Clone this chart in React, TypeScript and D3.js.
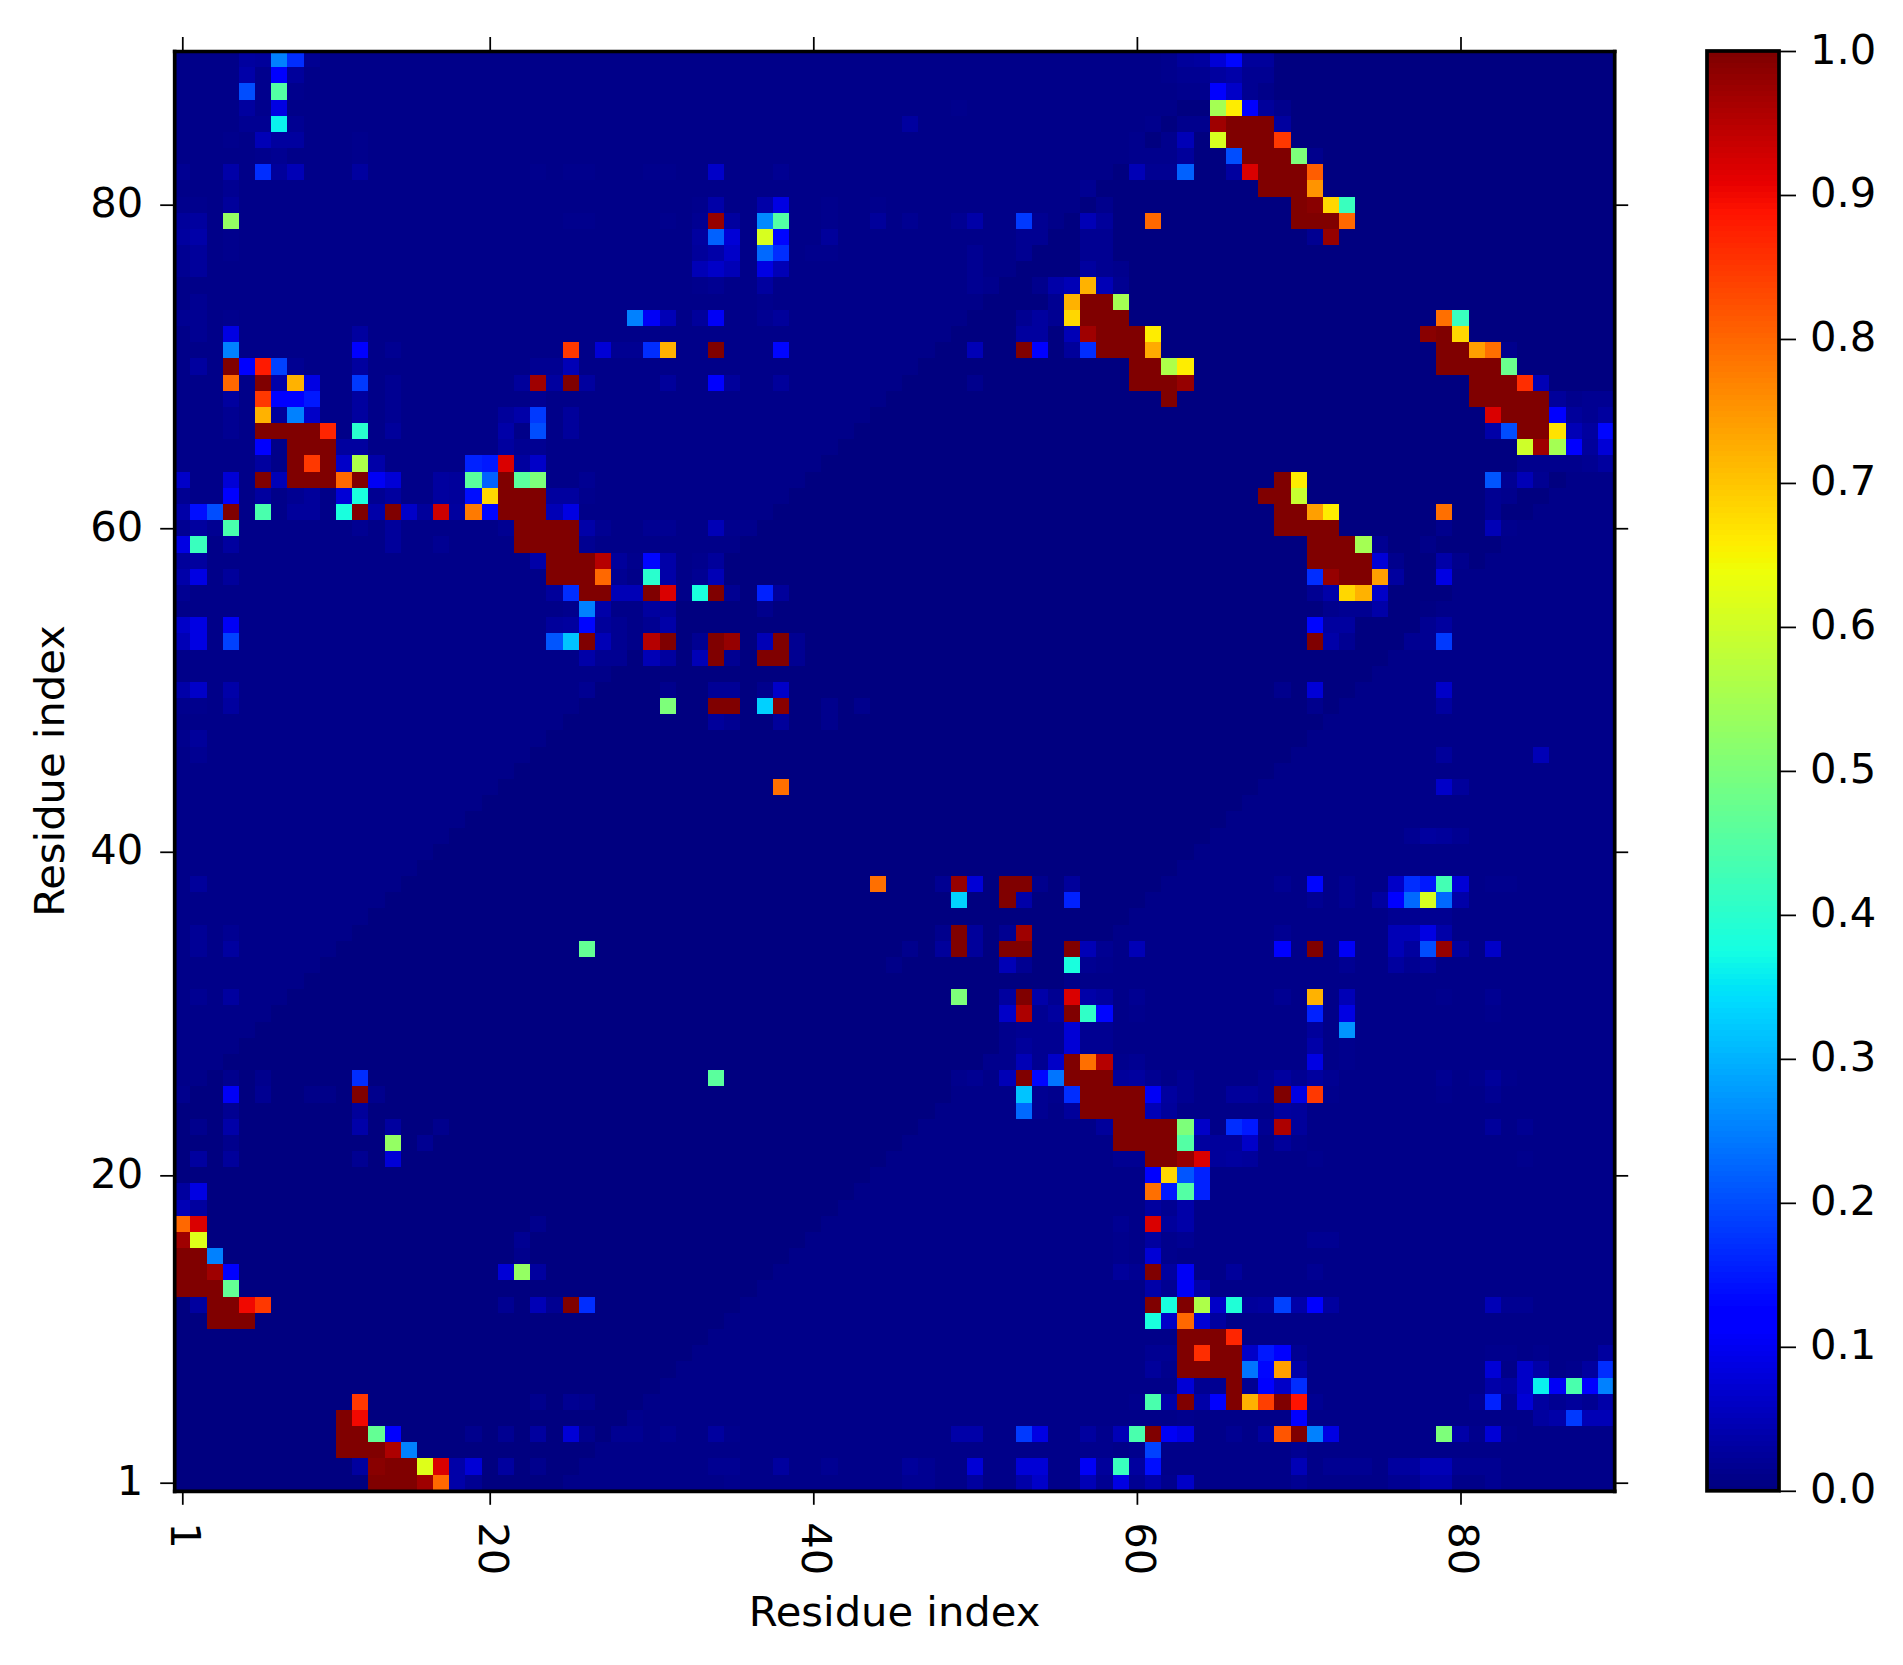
import * as d3 from 'd3';
import { useEffect, useRef } from 'react';

const WIDTH = 1903;
const HEIGHT = 1665;
const N_RESIDUES = 89;
const AXIS_TICKS = [1, 20, 40, 60, 80];
const COLORBAR_TICKS = [0, 0.1, 0.2, 0.3, 0.4, 0.5, 0.6, 0.7, 0.8, 0.9, 1];
const AXIS_LABEL = 'Residue index';
const FONT = '"DejaVu Sans", sans-serif';
const FONT_SIZE = 41.67;

// background level of the map, a little higher for residues far apart in sequence
const NEAR_LEVEL = 0;
const FAR_LEVEL = 0.008;
const FAR_SEPARATION = 24;

// each entry: row, then column, value, column, value ...
const rows89to73 = [
    [89, 5, .05, 6, .04, 7, .25, 8, .17, 9, .03, 62, .02, 63, .04, 64, .05, 65, .09, 66, .13, 67, .04, 68, .04],
    [88, 5, .06, 6, .02, 7, .12, 8, .04, 62, .02, 63, .03, 64, .03, 65, .05, 66, .06, 67, .03, 68, .03],
    [87, 5, .2, 6, .02, 7, .45, 8, .02, 63, .02, 64, .02, 65, .12, 66, .08, 67, .03, 68, .015],
    [86, 5, .05, 6, .02, 7, .1, 49, .02, 65, .55, 66, .66, 67, .12, 68, .04, 69, .02],
    [85, 5, .03, 6, .03, 7, .36, 8, .03, 46, .05, 61, .02, 63, .02, 64, .02, 65, .97, 66, 1, 67, 1, 68, 1, 69, .05],
    [84, 4, .02, 6, .07, 7, .05, 8, .05, 12, .025, 21, .015, 23, .015, 60, .02, 62, .02, 63, .07, 65, .61, 66, 1, 67, 1, 68, 1, 69, .85],
    [83, 6, .02, 7, .03, 12, .02, 60, .02, 61, .02, 62, .02, 63, .04, 66, .2, 67, 1, 68, 1, 69, 1, 70, .5, 71, .02],
    [82, 1, .03, 4, .06, 6, .17, 7, .04, 8, .07, 12, .05, 23, .025, 25, .02, 26, .02, 30, .02, 31, .02, 34, .08, 38, .03, 41, .015, 60, .07, 61, .03, 62, .03, 63, .22, 66, .05, 67, .92, 68, 1, 69, 1, 70, 1, 71, .81],
    [81, 4, .03, 57, .03, 68, 1, 69, 1, 70, 1, 71, .75],
    [80, 1, .02, 2, .02, 4, .04, 33, .02, 34, .06, 37, .06, 38, .1, 41, .02, 44, .02, 58, .02, 70, 1, 71, .99, 72, .68, 73, .42],
    [79, 1, .04, 2, .05, 4, .53, 25, .02, 26, .02, 31, .02, 33, .03, 34, .98, 35, .05, 37, .26, 38, .45, 41, .025, 44, .04, 46, .03, 49, .03, 50, .06, 53, .18, 54, .03, 57, .07, 58, .04, 61, .8, 70, 1, 71, 1, 72, 1, 73, .8],
    [78, 1, .05, 2, .06, 4, .025, 33, .05, 34, .22, 35, .09, 37, .61, 38, .13, 41, .04, 53, .03, 54, .03, 57, .03, 58, .03, 71, .03, 72, .98],
    [77, 1, .03, 2, .04, 4, .02, 33, .04, 34, .06, 35, .08, 37, .23, 38, .17, 40, .02, 41, .02, 50, .03, 53, .03, 57, .03, 58, .03],
    [76, 1, .03, 2, .04, 33, .07, 34, .08, 35, .07, 37, .1, 38, .07, 50, .03, 57, .05, 58, .03, 59, .02],
    [75, 33, .02, 34, .03, 37, .05, 50, .03, 51, .02, 54, .02, 55, .06, 56, .07, 57, .72, 58, .07, 59, .03],
    [74, 2, .03, 37, .02, 55, .03, 56, .72, 57, 1, 58, 1, 59, .55],
    [73, 1, .03, 2, .03, 4, .02, 29, .25, 30, .11, 31, .07, 33, .04, 34, .11, 37, .03, 38, .04, 53, .03, 54, .05, 55, .03, 56, .68, 57, 1, 58, 1, 59, 1, 79, .79, 80, .42],
];

const rows72to60 = [
    [72, 2, .03, 4, .1, 12, .05, 53, .05, 54, .05, 56, .07, 57, .97, 58, 1, 59, 1, 60, 1, 61, .66, 78, .99, 79, 1, 80, .68],
    [71, 4, .25, 12, .12, 14, .03, 25, .85, 27, .09, 28, .03, 29, .03, 30, .17, 31, .72, 34, 1, 38, .13, 50, .07, 53, 1, 54, .12, 56, .04, 57, .17, 58, 1, 59, 1, 60, 1, 61, .73, 79, 1, 80, 1, 81, .74, 82, .79, 83, .02],
    [70, 2, .05, 4, 1, 5, .12, 6, .88, 7, .19, 8, .03, 12, .05, 23, .03, 24, .03, 25, .07, 60, 1, 61, 1, 62, .56, 63, .66, 79, 1, 80, 1, 81, 1, 82, 1, 83, .48],
    [69, 4, .8, 6, 1, 7, .06, 8, .72, 9, .1, 12, .18, 14, .03, 22, .04, 23, .97, 24, .05, 25, 1, 26, .05, 31, .04, 34, .12, 35, .04, 38, .04, 50, .02, 60, 1, 61, 1, 62, 1, 63, .98, 81, 1, 82, 1, 83, 1, 84, .86, 85, .07],
    [68, 4, .05, 6, .85, 7, .12, 8, .12, 9, .15, 12, .05, 14, .03, 23, .03, 62, 1, 81, 1, 82, 1, 83, 1, 84, 1, 85, 1, 86, .04, 87, .02, 88, .03, 89, .03],
    [67, 4, .03, 6, .72, 7, .04, 8, .25, 9, .08, 12, .05, 14, .03, 21, .04, 22, .06, 23, .18, 25, .04, 82, .92, 83, 1, 84, 1, 85, 1, 86, .12, 87, .04, 88, .03, 89, .05],
    [66, 4, .03, 6, 1, 7, 1, 8, 1, 9, 1, 10, .87, 12, .4, 14, .04, 21, .06, 23, .2, 25, .04, 82, .06, 83, .2, 84, 1, 85, 1, 86, .67, 87, .07, 88, .05, 89, .13],
    [65, 6, .12, 8, 1, 9, 1, 10, 1, 11, .05, 12, .05, 21, .05, 22, .03, 23, .03, 84, .6, 85, .97, 86, .55, 87, .12, 88, .04, 89, .09],
    [64, 6, .05, 8, 1, 9, .85, 10, 1, 11, .08, 12, .56, 13, .06, 19, .16, 20, .15, 21, .92, 22, .05, 23, .08, 84, .02, 85, .02, 86, .02, 87, .02, 88, .03, 89, .05],
    [63, 1, .08, 4, .09, 6, 1, 7, .07, 8, 1, 9, 1, 10, 1, 11, .8, 12, 1, 13, .11, 14, .09, 17, .05, 18, .04, 19, .46, 20, .22, 21, 1, 22, .46, 23, .5, 26, .03, 69, 1, 70, .66, 82, .21, 83, .03, 84, .07, 85, .03],
    [62, 1, .03, 4, .12, 6, .05, 8, .03, 9, .04, 11, .09, 12, .38, 13, .03, 14, .05, 17, .05, 18, .04, 19, .14, 20, .68, 21, 1, 22, 1, 23, 1, 24, .05, 25, .05, 26, .02, 68, 1, 69, 1, 70, .59, 82, .03, 83, .02],
    [61, 1, .06, 2, .14, 3, .2, 4, 1, 6, .44, 8, .04, 9, .04, 11, .38, 12, 1, 13, .06, 14, 1, 15, .08, 16, .04, 17, .93, 18, .05, 19, .78, 20, .13, 21, 1, 22, 1, 23, 1, 24, .07, 25, .1, 69, 1, 70, 1, 71, .74, 72, .66, 79, .79, 82, .03],
    [60, 1, .03, 2, .05, 3, .03, 4, .44, 12, .03, 14, .04, 21, .03, 22, 1, 23, 1, 24, 1, 25, 1, 26, .06, 27, .03, 30, .03, 31, .03, 34, .07, 35, .02, 36, .02, 69, 1, 70, 1, 71, 1, 72, 1, 79, .02, 82, .07, 83, .02],
];

const rows59to37 = [
    [59, 1, .1, 2, .42, 4, .05, 14, .04, 17, .03, 22, 1, 23, 1, 24, 1, 25, 1, 26, .03, 71, 1, 72, 1, 73, 1, 74, .55, 75, .03, 78, .015],
    [58, 1, .04, 2, .05, 23, .06, 24, 1, 25, 1, 26, 1, 27, .95, 28, .04, 29, .02, 30, .13, 31, .06, 33, .02, 34, .04, 71, 1, 72, 1, 73, 1, 74, 1, 75, .09, 76, .02, 79, .06, 80, .02],
    [57, 1, .06, 2, .1, 4, .04, 24, 1, 25, 1, 26, 1, 27, .8, 28, .03, 30, .4, 31, .06, 33, .03, 34, .07, 71, .17, 72, .98, 73, 1, 74, 1, 75, .74, 76, .05, 79, .1, 80, .015],
    [56, 1, .03, 24, .04, 25, .17, 26, 1, 27, 1, 28, .07, 29, .07, 30, 1, 31, .92, 33, .38, 34, 1, 35, .03, 37, .16, 38, .04, 71, .03, 72, .06, 73, .68, 74, .72, 75, .08],
    [55, 25, .02, 26, .25, 27, .06, 30, .05, 31, .04, 37, .02, 72, .02, 73, .03, 74, .03, 75, .06, 78, .01],
    [54, 1, .08, 2, .1, 4, .11, 24, .04, 25, .05, 26, .13, 27, .04, 28, .03, 30, .03, 31, .06, 71, .13, 72, .05, 73, .05, 78, .03, 79, .05],
    [53, 1, .07, 2, .1, 4, .19, 24, .21, 25, .32, 26, 1, 27, .07, 28, .03, 30, .95, 31, 1, 33, .03, 34, 1, 35, .98, 37, .07, 38, 1, 39, .03, 71, 1, 72, .06, 73, .03, 77, .03, 78, .03, 79, .18],
    [52, 26, .06, 27, .03, 28, .03, 30, .07, 31, .05, 33, .07, 34, 1, 35, .03, 37, 1, 38, 1, 39, .03],
    [50, 1, .06, 2, .08, 4, .06, 26, .03, 31, .02, 34, .035, 35, .035, 37, .02, 38, .08, 69, .02, 71, .09, 79, .08],
    [49, 1, .02, 2, .02, 4, .05, 31, .5, 34, 1, 35, 1, 37, .33, 38, .99, 41, .02, 43, .02, 71, .02, 79, .05],
    [48, 34, .04, 35, .03, 38, .04, 41, .02],
    [47, 1, .02, 2, .04],
    [46, 2, .03, 79, .04, 85, .07],
    [44, 38, .79, 79, .08, 80, .04],
    [41, 77, .03, 78, .05, 79, .04, 80, .03],
    [38, 2, .045, 44, .79, 48, .03, 49, .98, 50, .09, 52, 1, 53, 1, 54, .02, 56, .04, 69, .03, 71, .13, 73, .03, 76, .08, 77, .17, 78, .15, 79, .43, 80, .09, 82, .02, 83, .02],
    [37, 49, .33, 52, 1, 53, .06, 56, .16, 71, .03, 73, .03, 75, .05, 76, .12, 77, .23, 78, .61, 79, .23, 80, .06],
];

const rows36to21 = [
    [36, 76, .03, 77, .03, 78, .03, 79, .03],
    [35, 2, .035, 4, .03, 48, .02, 49, 1, 50, .04, 52, .03, 53, .97, 69, .03, 76, .07, 77, .07, 78, .1, 79, .06],
    [34, 2, .035, 4, .05, 26, .47, 46, .02, 48, .04, 49, 1, 50, .04, 52, 1, 53, 1, 56, 1, 57, .07, 58, .03, 60, .07, 69, .12, 71, 1, 73, .11, 76, .07, 77, .05, 78, .2, 79, .98, 80, .05, 82, .08],
    [33, 45, .015, 52, .07, 53, .03, 56, .38, 57, .03, 58, .02, 73, .03, 76, .05, 77, .03, 78, .04],
    [31, 2, .03, 4, .05, 49, .5, 52, .05, 53, 1, 54, .06, 55, .03, 56, .92, 57, .06, 58, .05, 60, .03, 69, .03, 71, .72, 73, .07, 79, .02, 82, .03],
    [30, 52, .08, 53, .96, 54, .03, 55, .05, 56, 1, 57, .41, 58, .13, 60, .02, 71, .16, 73, .1, 82, .02],
    [29, 52, .02, 53, .03, 54, .03, 55, .03, 56, .09, 57, .03, 58, .03, 71, .04, 73, .27],
    [28, 52, .02, 53, .04, 54, .03, 55, .03, 56, .09, 57, .03, 58, .03, 71, .06, 73, .02],
    [27, 51, .02, 52, .02, 53, .07, 54, .03, 55, .08, 56, 1, 57, .79, 58, .95, 59, .02, 60, .03, 71, .1, 73, .02],
    [26, 4, .02, 6, .02, 12, .17, 34, .46, 49, .02, 50, .03, 52, .07, 53, 1, 54, .13, 55, .24, 56, 1, 57, 1, 58, 1, 59, .04, 60, .05, 61, .03, 63, .03, 68, .03, 69, .05, 70, .03, 71, .05, 72, .03, 79, .03, 81, .02, 82, .04, 83, .02],
    [25, 1, .02, 4, .11, 6, .03, 9, .015, 10, .015, 12, 1, 13, .02, 53, .32, 54, .03, 55, .02, 56, .17, 57, 1, 58, 1, 59, 1, 60, 1, 61, .11, 62, .05, 63, .03, 66, .04, 67, .04, 68, .03, 69, 1, 70, .1, 71, .85, 72, .02, 79, .02, 82, .03],
    [24, 4, .03, 12, .04, 53, .23, 54, .03, 56, .04, 57, 1, 58, 1, 59, 1, 60, 1, 61, .07, 62, .04, 69, .05, 70, .04],
    [23, 2, .02, 4, .06, 12, .06, 14, .05, 17, .02, 58, .04, 59, 1, 60, 1, 61, 1, 62, 1, 63, .5, 64, .08, 66, .17, 67, .15, 68, .03, 69, .96, 70, .04, 82, .04, 84, .03],
    [22, 4, .02, 14, .53, 16, .03, 59, 1, 60, 1, 61, 1, 62, 1, 63, .45, 64, .05, 65, .04, 66, .04, 67, .08, 69, .04, 70, .02],
    [21, 2, .05, 4, .04, 12, .03, 14, .09, 59, .03, 60, .03, 61, 1, 62, 1, 63, .98, 64, .92, 65, .04, 66, .05, 67, .04, 71, .02, 84, .02],
];

const rows20to1 = [
    [20, 61, .12, 62, .68, 63, .21, 64, .16],
    [19, 1, .05, 2, .1, 61, .79, 62, .15, 63, .45, 64, .16],
    [18, 1, .07, 2, .05, 61, .05, 62, .03, 63, .06],
    [17, 1, .8, 2, .92, 23, .02, 59, .03, 61, .92, 62, .04, 63, .06],
    [16, 1, .97, 2, .62, 22, .03, 59, .02, 61, .05, 62, .02, 63, .03, 71, .03, 72, .03],
    [15, 1, 1, 2, 1, 3, .25, 22, .02, 59, .02, 61, .09, 62, .02],
    [14, 1, 1, 2, 1, 3, .97, 4, .12, 21, .09, 22, .53, 23, .05, 59, .04, 60, .03, 61, 1, 62, .05, 63, .11, 66, .04, 71, .03],
    [13, 1, 1, 2, 1, 3, 1, 4, .47, 61, .06, 62, .03, 63, .11, 64, .06],
    [12, 2, .05, 3, 1, 4, 1, 5, .9, 6, .85, 21, .03, 23, .07, 24, .03, 25, 1, 26, .17, 61, 1, 62, .38, 63, 1, 64, .56, 65, .08, 66, .39, 67, .04, 68, .05, 69, .19, 70, .06, 71, .12, 72, .05, 82, .07, 83, .03, 84, .03],
    [11, 3, 1, 4, 1, 5, 1, 61, .38, 62, .08, 63, .8, 64, .09, 65, .05],
    [10, 63, 1, 64, 1, 65, 1, 66, .87],
    [9, 61, .03, 62, .03, 63, 1, 64, .86, 65, 1, 66, 1, 67, .08, 68, .15, 69, .12, 70, .03, 82, .02, 83, .02, 85, .02, 89, .05],
    [8, 61, .04, 62, .02, 63, 1, 64, 1, 65, 1, 66, 1, 67, .24, 68, .13, 69, .74, 70, .06, 82, .09, 84, .08, 85, .06, 87, .02, 88, .05, 89, .17],
    [7, 63, .09, 64, .03, 65, .03, 66, 1, 67, .03, 68, .12, 69, .08, 70, .17, 82, .06, 83, .05, 84, .08, 85, .36, 86, .11, 87, .44, 88, .12, 89, .25],
    [6, 12, .85, 23, .02, 25, .03, 26, .02, 60, .02, 61, .44, 62, .06, 63, 1, 64, .06, 65, .12, 66, 1, 67, .72, 68, .84, 69, 1, 70, .89, 71, .03, 81, .03, 82, .16, 83, .03, 84, .09, 85, .05, 86, .03, 87, .04, 88, .03, 89, .06],
    [5, 11, 1, 12, .9, 29, .02, 63, .02, 70, .12, 85, .05, 86, .06, 87, .18, 88, .07, 89, .07],
    [4, 11, 1, 12, 1, 13, .47, 14, .12, 19, .02, 21, .03, 23, .05, 25, .09, 26, .02, 28, .03, 29, .03, 31, .03, 34, .05, 35, .025, 49, .06, 50, .06, 53, .18, 54, .1, 57, .05, 58, .02, 59, .07, 60, .44, 61, 1, 62, .11, 63, .1, 66, .03, 68, .05, 69, .82, 70, 1, 71, .25, 72, .1, 79, .5, 80, .06, 81, .02, 82, .09, 83, .02],
    [3, 11, 1, 12, 1, 13, 1, 14, .96, 15, .25, 57, .02, 58, .02, 60, .02, 61, .19, 70, .03],
    [2, 12, .05, 13, .99, 14, 1, 15, 1, 16, .62, 17, .92, 18, .06, 19, .09, 21, .05, 23, .02, 34, .03, 35, .03, 38, .05, 41, .03, 46, .04, 47, .03, 50, .09, 53, .09, 54, .09, 57, .11, 58, .04, 59, .42, 60, .05, 61, .14, 70, .07, 72, .03, 73, .03, 74, .03, 76, .05, 77, .05, 78, .07, 79, .07, 80, .03, 81, .03, 82, .03],
    [1, 13, 1, 14, 1, 15, 1, 16, .97, 17, .8, 18, .06, 19, .03, 35, .02, 46, .03, 47, .03, 50, .05, 53, .06, 54, .08, 57, .07, 58, .03, 59, .1, 60, .03, 61, .06, 62, .02, 63, .08, 70, .03, 76, .03, 77, .03, 78, .06, 79, .06, 82, .03],
];

// matplotlib's jet, quantised to 256 levels like the original
const jetR = d3.scaleLinear([0, 0.35, 0.66, 0.89, 1], [0, 0, 1, 1, 0.5]);
const jetG = d3.scaleLinear([0, 0.125, 0.375, 0.64, 0.91, 1], [0, 0, 1, 1, 0, 0]);
const jetB = d3.scaleLinear([0, 0.11, 0.34, 0.65, 1], [0.5, 1, 1, 0, 0]);
const jet = (v: number) => {
    const t = Math.min(255, Math.floor(v * 256)) / 255;
    return d3.rgb(jetR(t) * 255, jetG(t) * 255, jetB(t) * 255).formatRgb();
};

// the darkest blues were read a bit too high off the picture, pull them back
const faintFix = d3.scaleLinear([0, 0.06, 0.13], [0, 0.036, 0.13]);

type Cell = { row: number; col: number; value: number };

function buildCells(): Cell[] {
    const lookup = new Map<string, number>();
    [...rows89to73, ...rows72to60, ...rows59to37, ...rows36to21, ...rows20to1].forEach(([row, ...pairs]) => {
        for (let k = 0; k < pairs.length; k += 2) {
            const v = pairs[k + 1];
            lookup.set(`${row}-${pairs[k]}`, v < 0.13 ? faintFix(v) : v);
        }
    });
    const residues = d3.range(1, N_RESIDUES + 1);
    return residues.flatMap((row) =>
        residues.map((col) => ({
            row,
            col,
            value:
                lookup.get(`${row}-${col}`) ??
                (Math.abs(row - col) >= FAR_SEPARATION ? FAR_LEVEL : NEAR_LEVEL),
        }))
    );
}

function styleAxis(g: d3.Selection<SVGGElement, unknown, null, undefined>) {
    g.attr('font-family', FONT).attr('font-size', FONT_SIZE);
    g.selectAll('.domain').attr('stroke-width', 3.7).attr('stroke-linecap', 'square');
    g.selectAll('.tick line').attr('stroke-width', 1.75);
}

const App = () => {
    const svgRef = useRef<SVGSVGElement>(null);

    useEffect(() => {
        if (!svgRef.current) return;
        const svg = d3.select(svgRef.current);
        svg.selectAll('*').remove();

        const x = d3.scaleLinear().domain([0.5, N_RESIDUES + 0.5]).range([174.2, 1614.2]);
        const y = d3.scaleLinear().domain([0.5, N_RESIDUES + 0.5]).range([1490.8, 51]);

        svg.append('g')
            .attr('shape-rendering', 'crispEdges')
            .selectAll('rect')
            .data(buildCells())
            .enter()
            .append('rect')
            .attr('x', (d) => x(d.col - 0.5))
            .attr('y', (d) => y(d.row + 0.5))
            .attr('width', x(1.5) - x(0.5))
            .attr('height', y(0.5) - y(1.5))
            .attr('fill', (d) => jet(d.value));

        const tickSize = 14;
        const gBottom = svg.append<SVGGElement>('g').attr('transform', `translate(0,${y(0.5)})`);
        gBottom.call(d3.axisBottom(x).tickValues(AXIS_TICKS).tickSize(tickSize).tickSizeOuter(0).tickFormat(d3.format('d')));
        styleAxis(gBottom);
        gBottom
            .selectAll('text')
            .attr('x', 0)
            .attr('y', 0)
            .attr('dy', 11.5)
            .attr('text-anchor', 'start')
            .attr('transform', 'translate(0,31.5) rotate(90)');

        const gLeft = svg.append<SVGGElement>('g').attr('transform', `translate(${x(0.5)},0)`);
        gLeft.call(d3.axisLeft(y).tickValues(AXIS_TICKS).tickSize(tickSize).tickSizeOuter(0).tickFormat(d3.format('d')));
        styleAxis(gLeft);
        gLeft.selectAll('text').attr('x', -31).attr('dy', 12);

        const gTop = svg.append<SVGGElement>('g').attr('transform', `translate(0,${y(N_RESIDUES + 0.5)})`);
        gTop.call(d3.axisTop(x).tickValues(AXIS_TICKS).tickSize(tickSize).tickSizeOuter(0).tickFormat(() => ''));
        styleAxis(gTop);

        const gRight = svg.append<SVGGElement>('g').attr('transform', `translate(${x(N_RESIDUES + 0.5)},0)`);
        gRight.call(d3.axisRight(y).tickValues(AXIS_TICKS).tickSize(tickSize).tickSizeOuter(0).tickFormat(() => ''));
        styleAxis(gRight);

        svg.append('text')
            .attr('x', 894.5)
            .attr('y', 1626)
            .attr('text-anchor', 'middle')
            .attr('font-family', FONT)
            .attr('font-size', FONT_SIZE)
            .text(AXIS_LABEL);

        svg.append('text')
            .attr('transform', 'translate(64,771) rotate(-90)')
            .attr('text-anchor', 'middle')
            .attr('font-family', FONT)
            .attr('font-size', FONT_SIZE)
            .text(AXIS_LABEL);

        // Colorbar
        const barLeft = 1707;
        const barRight = 1779;
        const barScale = d3.scaleLinear().domain([0, 1]).range([y(0.5), y(N_RESIDUES + 0.5)]);
        const levels = d3.range(256);
        svg.append('g')
            .attr('shape-rendering', 'crispEdges')
            .selectAll('rect')
            .data(levels)
            .enter()
            .append('rect')
            .attr('x', barLeft)
            .attr('width', barRight - barLeft)
            .attr('y', (d) => barScale((d + 1) / 256))
            .attr('height', barScale(0) - barScale(1 / 256) + 0.5)
            .attr('fill', (d) => jet(d / 256));

        svg.append('rect')
            .attr('x', barLeft)
            .attr('y', barScale(1))
            .attr('width', barRight - barLeft)
            .attr('height', barScale(0) - barScale(1))
            .attr('fill', 'none')
            .attr('stroke', '#000')
            .attr('stroke-width', 3.7);

        const gBar = svg.append<SVGGElement>('g').attr('transform', `translate(${barRight},0)`);
        gBar.call(d3.axisRight(barScale).tickValues(COLORBAR_TICKS).tickSize(17).tickSizeOuter(0).tickFormat(d3.format('.1f')));
        styleAxis(gBar);
        gBar.select('.domain').remove();
        gBar.selectAll('text').attr('x', 31).attr('dy', 12);
    }, []);

    return (
        <svg
            ref={svgRef}
            width={WIDTH}
            height={HEIGHT}
            style={{ position: 'absolute', left: 0, top: 0, background: '#fff' }}
        ></svg>
    );
};

export default App;
